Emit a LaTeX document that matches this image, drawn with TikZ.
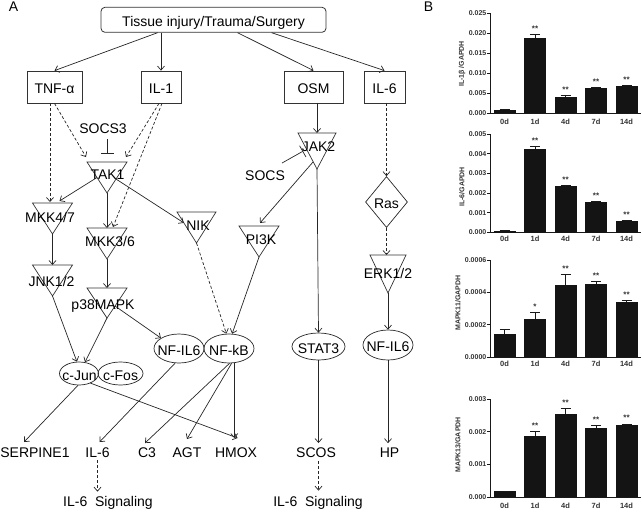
\documentclass[tikz,border=0pt]{standalone}
\usepackage{fontspec}
\setmainfont{Liberation Sans}
\usetikzlibrary{arrows.meta,calc,shapes.geometric}
\newcommand\mytri[5]{%
  \coordinate (#1-t) at (#2,#3);
  \coordinate (#1-l) at ({#2-#4},#3);
  \coordinate (#1-r) at ({#2+#4},#3);
  \coordinate (#1-a) at (#2,{#3+#5});
  \draw[tri] (#1-l) -- (#1-r) -- (#1-a) -- cycle;}
% chart helpers
\newcommand\myticks[5]{% #1 id, #2 yz, #3 yt, #4 n, #5 list k/label
  \foreach \k/\l in {#5} {
    \pgfmathsetmacro\yy{#2-(#2-#3)*\k/#4}
    \draw[axisl] (487,\yy) -- (490,\yy);
    \node[tickl] (#1t\k) at (486.5,\yy) {\l};
  }}
\newcommand\mybars[5]{% #1 id, #2 yz, #3 yt, #4 vmax, #5 list i/v/e/s
  \foreach \i/\v/\e/\s in {#5} {
    \pgfmathsetmacro\xc{504.5+30.5*\i}
    \pgfmathsetmacro\yb{#2-(#2-#3)*\v/#4}
    \pgfmathsetmacro\ye{#2-(#2-#3)*\e/#4}
    \fill[barf] ({\xc-11},#2) rectangle ({\xc+11},\yb);
    \draw[axisl] (\xc,\yb) -- (\xc,\ye) ({\xc-5},\ye) -- ({\xc+5},\ye);
    \node[starl] (#1s\i) at (\xc,{\ye-3}) {\ifcase\s\or*\or**\fi};
  }}
\newcommand\myxlab[2]{% #1 id, #2 y
  \foreach \i/\l in {0/0d,1/1d,2/4d,3/7d,4/14d}
    \node[xl] (#1x\i) at ({504.5+30.5*\i},#2) {\l};}
\begin{document}
\begin{tikzpicture}[x=1pt,y=-1pt,
  lab/.style={font=\fontsize{14}{16}\selectfont, inner sep=0pt, anchor=base},
  box/.style={draw=black!80, line width=0.8pt, inner sep=0pt},
  tri/.style={draw=black!80, line width=0.7pt, line join=miter},
  ell/.style={draw=black!85, line width=0.7pt, ellipse, inner sep=0pt},
  ar/.style={-{Straight Barb[length=4pt,width=7pt]}, line width=0.7pt, draw=black!85},
  da/.style={ar, dash pattern=on 3pt off 2pt},
  inh/.style={-{Bar[width=13pt]}, line width=0.7pt, draw=black!85},
  axisl/.style={line width=0.8pt, draw=black!90},
  tickl/.style={font=\fontsize{7}{8}\selectfont\bfseries, inner sep=0pt, anchor=east, text=black!80},
  xl/.style={font=\fontsize{7.5}{8}\selectfont\bfseries, inner sep=0pt, text=black!80},
  yl/.style={font=\fontsize{7}{8}\selectfont\bfseries, inner sep=0pt, rotate=90, text=black!80},
  starl/.style={font=\fontsize{8}{8}\selectfont\bfseries, inner sep=0pt, anchor=base, text=black!80},
  barf/.style={fill=black!92}
]
\useasboundingbox (0,0) rectangle (642,511);

% ---------- Panel A ----------
\node[lab] (pA) at (13.5,12) {A};
\node[box, rounded corners=4pt, minimum width=225pt, minimum height=25pt] (top) at (213.5,19.8) {};
\node[lab] (toplab) at (213.5,27) {Tissue injury/Trauma/Surgery};

\node[box, minimum width=55pt, minimum height=32pt] (tnf) at (54.5,87) {};
\node[box, minimum width=40pt, minimum height=32pt] (il1) at (161,87) {};
\node[box, minimum width=59pt, minimum height=32pt] (osm) at (313.5,87) {};
\node[box, minimum width=41pt, minimum height=32pt] (il6) at (384.5,87) {};
\node[lab] (tnflab) at (54.5,93.5) {TNF-α};
\node[lab] (il1lab) at (161,93.5) {IL-1};
\node[lab] (osmlab) at (313.5,93.5) {OSM};
\node[lab] (il6lab) at (384.5,93.5) {IL-6};

\mytri{tak}{107}{162}{20}{31}
\mytri{mkk47}{52.5}{203}{20}{31}
\mytri{mkk36}{107}{228}{20}{31}
\mytri{nik}{196.5}{212}{19.5}{31}
\mytri{pi3k}{259}{226}{20}{31}
\mytri{jnk}{52.5}{265}{20}{31}
\mytri{p38}{107}{288}{20}{30}
\mytri{jak2}{317}{133}{19}{36}
\mytri{erk}{388}{255}{18}{38}

\node[lab] (socs3) at (103,133) {SOCS3};
\node[lab] (socs) at (265,180) {SOCS};
\node[lab] (taklab) at (107.5,179) {TAK1};
\node[lab] (mkk47lab) at (50,222) {MKK4/7};
\node[lab] (mkk36lab) at (110,246) {MKK3/6};
\node[lab] (niklab) at (198,230) {NIK};
\node[lab] (pi3klab) at (261,244.5) {PI3K};
\node[lab] (jnklab) at (51.5,286) {JNK1/2};
\node[lab] (p38lab) at (103,309) {p38MAPK};
\node[lab] (jak2lab) at (318.5,151) {JAK2};
\node[lab] (erklab) at (388,278) {ERK1/2};

\node[draw=black!85, line width=0.7pt, diamond, inner sep=0pt, minimum width=42pt, minimum height=51pt] (ras) at (386.5,202) {};
\node[lab] (raslab) at (386.5,208) {Ras};

\node[ell, minimum width=50pt, minimum height=29pt] (nfil6a) at (179,348.5) {};
\node[ell, minimum width=50pt, minimum height=29pt] (nfkb) at (229,348.5) {};
\node[ell, minimum width=53pt, minimum height=27pt] (stat3) at (318.5,346.5) {};
\node[ell, minimum width=50pt, minimum height=30pt] (nfil6b) at (388,345) {};
\node[ell, minimum width=39pt, minimum height=23pt] (cjun) at (79,373.5) {};
\node[ell, minimum width=45pt, minimum height=23pt] (cfos) at (120.5,373.5) {};
\node[lab] (nfil6alab) at (179,355.5) {NF-IL6};
\node[lab] (nfkblab) at (229,355.5) {NF-kB};
\node[lab] (stat3lab) at (318.5,353) {STAT3};
\node[lab] (nfil6blab) at (388,351) {NF-IL6};
\node[lab] (cjunlab) at (79.5,380) {c-Jun};
\node[lab] (cfoslab) at (120.5,380) {c-Fos};

\node[lab] (serpine) at (35,457) {SERPINE1};
\node[lab] (il6b) at (97.5,457) {IL-6};
\node[lab] (c3) at (147,457) {C3};
\node[lab] (agt) at (187,457) {AGT};
\node[lab] (hmox) at (236,457) {HMOX};
\node[lab] (scos) at (316,457) {SCOS};
\node[lab] (hp) at (389.5,457) {HP};
\node[lab] (sig1) at (108,506) {IL-6\ \ Signaling};
\node[lab] (sig2) at (318,506) {IL-6\ \ Signaling};

% connectors
\draw[ar] ($(top.south west)+(57,0)$) -- (tnf.north);
\draw[ar] (top.south -| il1.north) -- (il1.north);
\draw[ar] ($(top.south west)+(137,0)$) -- (osm.north);
\draw[ar] ($(top.south west)+(171,0)$) -- (il6.north);

\draw[da] (tnf.south) -- ($(tak-l)+(-1,-5)$);
\draw[da] ($(tnf.south)+(-4.5,0)$) -- ($(mkk47-t)+(-2.5,-1)$);
\draw[da] ($(il1.south)+(-2,0)$) -- ($(tak-r)+(-1,-5)$);
\draw[da] ($(il1.south)+(1,0)$) -- ($(mkk36-t)+(6,-1)$);
\draw[inh] ($(tak-t |- socs3.south)+(0,6)$) -- ($(tak-t)+(0,-8)$);

\draw[ar] ($(tak-l)!0.5!(tak-a)$) -- ($(mkk47-t)+(7,-2)$);
\draw[ar] (tak-a) -- (mkk36-t);
\draw[ar] ($(tak-r)!0.55!(tak-a)$) -- ($(nik-l)!0.35!(nik-a)$);
\draw[ar] (mkk47-a) -- (jnk-t);
\draw[ar] (mkk36-a) -- (p38-t);
\draw[ar] (jnk-a) -- (cjun.100);
\draw[ar] (p38-a) -- (cjun.62);
\draw[ar] ($(p38-r)!0.6!(p38-a)$) -- (nfil6a.150);
\draw[da] (nik-a) -- (nfkb.100);
\draw[ar] (pi3k-a) -- (nfkb.78);

\draw[ar] (osm.south -| jak2-t) -- (jak2-t);
\draw[ar] ($(jak2-l)!0.8!(jak2-a)$) -- ($(pi3k-t)+(1,-3)$);
\draw[inh, shorten >=4pt] ($(socs.north east)+(-3,-7)$) -- ($(jak2-l)!0.45!(jak2-a)$);
\draw[ar] (jak2-a) -- (stat3.north);
\draw[ar] (stat3.south) -- ($(stat3.south |- scos.north)+(0,-4)$);
\draw[da] ($(stat3.south |- scos.south)+(0,4)$) -- ($(stat3.south |- sig2.north)+(0,-5)$);

\draw[da] (il6.south -| ras.north) -- (ras.north);
\draw[da] (ras.south) -- (ras.south |- erk-t);
\draw[ar] (erk-a) -- (nfil6b.north);
\draw[ar] (nfil6b.south) -- ($(nfil6b.south |- hp.north)+(0,-4)$);

\draw[ar] (cjun.265) -- ($(serpine.north)+(-11,-5)$);
\draw[ar] (cjun.-40) -- ($(hmox.north)+(1.6,-9)$);
\draw[ar] (nfil6a.-105) -- ($(il6b.north)+(2,-5)$);
\draw[ar] (nfkb.-88) -- ($(c3.north)+(-2,-4)$);
\draw[ar] (nfkb.-80) -- ($(agt.north)+(0,-8)$);
\draw[ar] (nfkb.-70) -- ($(nfkb.-70 |- hmox.north)+(0,-9)$);
\draw[da] ($(il6b.south)+(0,3)$) -- ($(il6b.south |- sig1.north)+(0,-4)$);

% ---------- Panel B ----------
\node[lab] (pB) at (428.5,12) {B};

% chart 1
\draw[axisl] (490,13.5) -- (490,113) -- (641,113);
\myticks{a}{113}{13.5}{5}{0/0.000,1/0.005,2/0.010,3/0.015,4/0.020,5/0.025}
\mybars{a}{113}{13.5}{25}{0/0.8/1.0/0,1/18.9/19.8/2,2/4.0/4.3/2,3/6.3/6.5/2,4/6.8/7.0/2}
\myxlab{a}{122}
\node[yl] (ya) at (462,64) {IL-1β /GAPDH};

% chart 2
\draw[axisl] (490,134) -- (490,232.5) -- (641,232.5);
\myticks{b}{232.5}{134}{5}{0/0.000,1/0.001,2/0.002,3/0.003,4/0.004,5/0.005}
\mybars{b}{232.5}{134}{5}{0/0.1/0.12/0,1/4.25/4.38/2,2/2.35/2.38/2,3/1.55/1.58/2,4/0.6/0.62/2}
\myxlab{b}{238.5}
\node[yl] (yb) at (462,187) {IL-6/GAPDH};

% chart 3
\draw[axisl] (490,260) -- (490,357.3) -- (641,357.3);
\myticks{c}{357.3}{260}{3}{0/0.0000,1/0.0002,2/0.0004,3/0.0006}
\mybars{c}{357.3}{260}{6}{0/1.42/1.7/0,1/2.35/2.75/1,2/4.45/5.1/2,3/4.55/4.65/2,4/3.43/3.5/2}
\myxlab{c}{363.5}
\node[yl] (yc) at (458,303) {MAPK11/GAPDH};

% chart 4
\draw[axisl] (490,399) -- (490,497.3) -- (641,497.3);
\myticks{d}{497.3}{399}{3}{0/0.000,1/0.001,2/0.002,3/0.003}
\mybars{d}{497.3}{399}{3}{0/0.19/0.19/0,1/1.88/2.0/2,2/2.55/2.72/2,3/2.1/2.2/2,4/2.2/2.24/2}
\myxlab{d}{506}
\node[yl] (yd) at (458,445) {MAPK13/GAPDH};
\end{tikzpicture}
\end{document}
